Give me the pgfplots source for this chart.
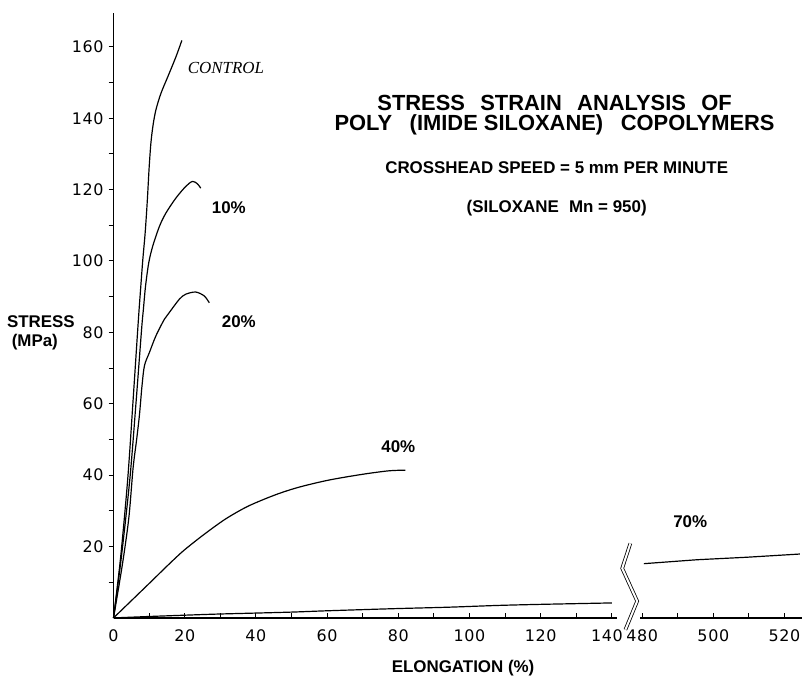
\documentclass[border=0pt]{standalone}
\usepackage{fontspec}
\setmainfont{Liberation Sans}
\newfontfamily\tickfont[LetterSpace=4]{DejaVu Sans}
\newfontfamily\ctrlfont{Liberation Serif}
\usepackage{pgfplots}
\usepackage{pgfplotstable}
\pgfplotsset{compat=1.18}

% elongation (%) vs stress (MPa)
\pgfplotstableread{
x y
0 0
2.0 17
4.0 39
5.5 61
7.0 83.7
7.6 92
8.2 100
8.9 108
9.5 117
10.0 126
10.5 133
11.1 138
11.9 142.3
13.3 146.9
15.2 151.5
17.5 157.1
19.2 161.8
}\control

\pgfplotstableread{
x y
0 0
2.2 17
4.6 39
6.3 60
7.9 81
8.4 86.5
9.0 93
9.9 99.5
11.0 104.1
12.9 109.7
14.7 113.4
17.5 117.6
20.3 120.9
22.2 122.3
23.6 121.6
24.5 120.4
}\ten

\pgfplotstableread{
x y
0 0
2.5 15
4.3 28
5.5 42
6.5 50
7.3 57
8.0 65
8.7 70.7
10.1 74.4
11.9 79
14.3 83.7
15.7 85.6
18.5 89.3
20.3 90.7
23.1 91.3
25.5 90.2
26.9 88.3
}\twenty

\pgfplotstableread{
x y
0 0
5.4 5.2
11 10.6
15 14.5
19.4 18.6
24 22.3
28.7 25.8
32.4 28.3
38 31.4
45.5 34.5
52 36.6
60.4 38.6
69.7 40.2
77.2 41.2
82 41.4
}\forty

\pgfplotstableread{
x y
0 0
10 0.4
21 0.8
30 1.1
49 1.6
60 2.0
79 2.6
94 3.0
108 3.5
120 3.8
140 4.2
}\seventya

% after the axis break (480-525 %)
\pgfplotstableread{
x y
480.5 15.2
495.4 16.3
509.4 17.0
524.3 17.9
}\seventyb

\begin{document}
\begin{tikzpicture}
\begin{axis}[
  name=ax,
  scale only axis,
  width=345.9pt, height=303.8pt,
  xmin=0, xmax=193.5, ymin=0, ymax=169.5,
  axis x line=bottom, axis y line=left,
  axis line style={-, line width=0.6pt},
  x axis line style={draw=none},
  xtick={0,10,...,140,148.5,158.5,168.5,178.5,188.5},
  xticklabels={0,,20,,40,,60,,80,,100,,120,,\makebox[0pt]{\hspace{-5pt}140},480,,500,,520},
  ytick={20,40,...,160},
  minor ytick={10,30,...,150},
  xtick align=inside,
  ytick align=outside,
  major tick length=2.5pt, minor tick length=2.5pt,
  tick style={black, line width=0.5pt},
  /pgf/number format/assume math mode=true,
  yticklabel style={font=\tickfont\fontsize{8}{9}\selectfont, xshift=1pt},
  xticklabel style={font=\tickfont\fontsize{8}{9}\selectfont, yshift=-2.5pt},
  clip=false,
  every axis plot/.append style={black, line width=0.6pt},
]
\addplot[smooth] table[x=x,y=y]{\control};
\addplot[smooth] table[x=x,y=y]{\ten};
\addplot[smooth] table[x=x,y=y]{\twenty};
\addplot[smooth] table[x=x,y=y]{\forty};
\addplot[smooth] table[x=x,y=y]{\seventya};
\addplot[x filter/.expression={x-331.5}] table[x=x,y=y]{\seventyb};

% broken x axis
\draw[line width=0.6pt] (axis cs:0,0) -- (axis cs:141.5,0);
\draw[line width=0.6pt] (axis cs:148,0) -- (axis cs:193.5,0);
\draw[double, double distance=1pt, line width=0.4pt]
  (axis cs:143.8,-3.3) -- (axis cs:147.1,4.7) -- (axis cs:142.9,13.9) -- (axis cs:145.2,20.9);

% curve labels
\node[font=\ctrlfont\itshape\fontsize{8.5}{10}\selectfont] at (axis cs:31.6,154) {CONTROL};
\node[font=\bfseries\fontsize{8.5}{10}\selectfont] at (axis cs:32.4,115) {10\%};
\node[font=\bfseries\fontsize{8.5}{10}\selectfont] at (axis cs:35.2,83.1) {20\%};
\node[font=\bfseries\fontsize{8.5}{10}\selectfont] at (axis cs:80,47.9) {40\%};
\node[font=\bfseries\fontsize{8.5}{10}\selectfont] at (axis cs:162,27) {70\%};

% titles
\node[font=\bfseries\fontsize{11}{12}\selectfont] at (axis cs:123.9,144.2)
  {STRESS\hspace{0.7em}STRAIN\hspace{0.7em}ANALYSIS\hspace{0.7em}OF};
\node[font=\bfseries\fontsize{11}{12}\selectfont] at (axis cs:123.9,138.1)
  {POLY\hspace{0.8em}(IMIDE SILOXANE)\hspace{0.8em}COPOLYMERS};
\node[font=\bfseries\fontsize{8.5}{10}\selectfont] at (axis cs:124.5,126.1)
  {CROSSHEAD SPEED = 5 mm PER MINUTE};
\node[font=\bfseries\fontsize{8.5}{10}\selectfont] at (axis cs:124.5,114.9)
  {(SILOXANE\hspace{0.6em}Mn = 950)};

% axis titles
\node[font=\bfseries\fontsize{8.5}{10}\selectfont] at (axis cs:98.2,-14.2) {ELONGATION (\%)};
\node[font=\bfseries\fontsize{8.5}{10}\selectfont] at (axis cs:-20.4,83.1) {STRESS};
\node[font=\bfseries\fontsize{8.5}{10}\selectfont] at (axis cs:-22.1,77.3) {(MPa)};
\end{axis}
\path ([xshift=-57pt,yshift=-30.5pt]ax.south west) rectangle ([yshift=6.5pt]ax.north east);
\end{tikzpicture}
\end{document}
